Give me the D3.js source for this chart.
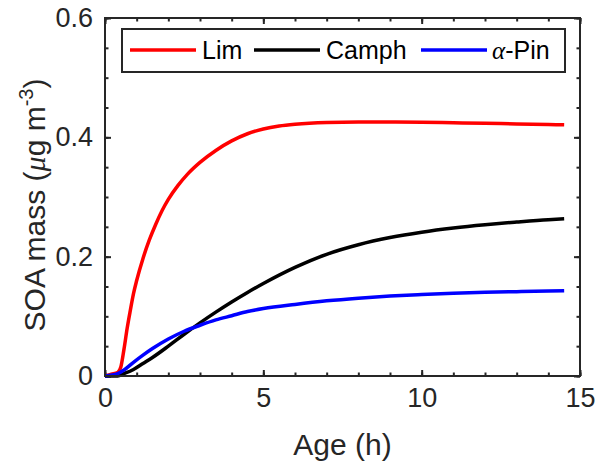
<!DOCTYPE html>
<html>
<head>
<meta charset="utf-8">
<script src="https://cdn.jsdelivr.net/npm/d3@7"></script>
<style>
  body { margin: 0; background: #fff; }
  text { font-family: "Liberation Sans", Arial, sans-serif; fill: #262626; }
</style>
</head>
<body>
<div id="chart"></div>
<script>
// data
var ageLim = [0, 0.2, 0.4, 0.5, 0.6, 0.7, 0.8, 0.9, 1.0, 1.2, 1.4, 1.6, 1.8, 2.0, 2.3, 2.6, 3.0, 3.5, 4.0, 4.5, 5, 5.5, 6, 7, 8, 9, 10, 11, 12, 13, 14, 14.5];
var limMass = [0, 0.003, 0.006, 0.015, 0.045, 0.08, 0.11, 0.138, 0.16, 0.197, 0.228, 0.254, 0.277, 0.296, 0.319, 0.338, 0.358, 0.378, 0.394, 0.406, 0.414, 0.419, 0.422, 0.425, 0.4258, 0.4258, 0.4253, 0.4245, 0.4235, 0.4225, 0.4215, 0.421];

var ageOther = [0, 0.4, 0.6, 0.9, 1.2, 1.5, 2, 2.5, 3, 3.5, 4, 4.5, 5, 6, 7, 8, 9, 10, 11, 12, 13, 14, 14.5];
var camphMass = [0, 0, 0.004, 0.011, 0.021, 0.031, 0.05, 0.07, 0.089, 0.107, 0.124, 0.14, 0.155, 0.182, 0.204, 0.22, 0.232, 0.241, 0.248, 0.2535, 0.258, 0.262, 0.2635];
var pinMass = [0, 0.004, 0.01, 0.023, 0.035, 0.046, 0.062, 0.075, 0.085, 0.094, 0.101, 0.108, 0.113, 0.12, 0.126, 0.1305, 0.134, 0.1365, 0.1385, 0.1402, 0.1414, 0.1423, 0.1427];

var xTicks = [0, 5, 10, 15];
var yTicks = [0, 0.2, 0.4, 0.6];
var yTickLabels = ["0", "0.2", "0.4", "0.6"];

var svgWidth = 599;
var svgHeight = 464;
var margin = { top: 18, right: 19, bottom: 88, left: 105 };
var width = svgWidth - margin.left - margin.right;
var height = svgHeight - margin.top - margin.bottom;

var svg = d3.select("#chart").append("svg")
    .attr("width", svgWidth)
    .attr("height", svgHeight);

var g = svg.append("g")
    .attr("transform", `translate(${margin.left}, ${margin.top})`);

var x = d3.scaleLinear().domain([0, 15]).range([0, width]);
var y = d3.scaleLinear().domain([0, 0.6]).range([height, 0]);

var axisColor = "#262626";

// minor ticks (all four sides, pointing inward)
var xMinor = d3.range(0, 15.01, 1);
var yMinor = d3.range(0, 0.601, 0.05);

function styleAxis(sel) {
    sel.select(".domain").remove();
    sel.selectAll("line").attr("stroke", axisColor).attr("stroke-width", 2);
}

g.append("g").attr("transform", `translate(0,${height})`)
    .call(d3.axisBottom(x).tickValues(xMinor).tickSize(-3.5).tickFormat(""))
    .call(styleAxis);
g.append("g")
    .call(d3.axisTop(x).tickValues(xMinor).tickSize(-3.5).tickFormat(""))
    .call(styleAxis);
g.append("g")
    .call(d3.axisLeft(y).tickValues(yMinor).tickSize(-3.5).tickFormat(""))
    .call(styleAxis);
g.append("g").attr("transform", `translate(${width},0)`)
    .call(d3.axisRight(y).tickValues(yMinor).tickSize(-3.5).tickFormat(""))
    .call(styleAxis);

// major ticks with labels
var xAxis = g.append("g").attr("transform", `translate(0,${height})`)
    .call(d3.axisBottom(x).tickValues(xTicks).tickSize(-6).tickPadding(12).tickFormat(d3.format("d")))
    .call(styleAxis);
xAxis.selectAll("text").attr("font-size", "27px").attr("fill", axisColor)
    .attr("font-family", "Liberation Sans, Arial, sans-serif");

var yAxis = g.append("g")
    .call(d3.axisLeft(y).tickValues(yTicks).tickSize(-6).tickPadding(12)
        .tickFormat((d, i) => yTickLabels[i]))
    .call(styleAxis);
yAxis.selectAll("text").attr("font-size", "27px").attr("fill", axisColor)
    .attr("font-family", "Liberation Sans, Arial, sans-serif");

g.append("g")
    .call(d3.axisTop(x).tickValues(xTicks).tickSize(-6).tickFormat(""))
    .call(styleAxis);
g.append("g").attr("transform", `translate(${width},0)`)
    .call(d3.axisRight(y).tickValues(yTicks).tickSize(-6).tickFormat(""))
    .call(styleAxis);

// lines
var line = d3.line()
    .x(d => x(d[0]))
    .y(d => y(d[1]))
    .curve(d3.curveMonotoneX);

var series = [
    { name: "Lim", color: "#ff0000", age: ageLim, mass: limMass },
    { name: "Camph", color: "#000000", age: ageOther, mass: camphMass },
    { name: "Pin", color: "#0000ff", age: ageOther, mass: pinMass }
];

series.forEach(function (s) {
    g.append("path")
        .datum(d3.zip(s.age, s.mass))
        .attr("fill", "none")
        .attr("stroke", s.color)
        .attr("stroke-width", 3.5)
        .attr("stroke-linejoin", "round")
        .attr("d", line);
});

// box
g.append("rect")
    .attr("width", width)
    .attr("height", height)
    .attr("fill", "none")
    .attr("stroke", axisColor)
    .attr("stroke-width", 2);

// axis labels
svg.append("text")
    .attr("x", margin.left + width / 2)
    .attr("y", 455)
    .attr("text-anchor", "middle")
    .attr("font-size", "30px")
    .text("Age (h)");

var ylab = svg.append("text")
    .attr("transform", "translate(45," + (margin.top + height / 2 + 8) + ") rotate(-90)")
    .attr("text-anchor", "middle")
    .attr("font-size", "30px");
ylab.append("tspan").text("SOA mass (");
ylab.append("tspan").attr("font-family", "Liberation Serif, serif").attr("font-style", "italic").text("\u03bc");
ylab.append("tspan").text("g m");
ylab.append("tspan").attr("font-size", "20px").attr("dy", -12).text("-3");
ylab.append("tspan").attr("dy", 12).text(")");

// legend
var legend = svg.append("g");
legend.append("rect")
    .attr("x", 122).attr("y", 29)
    .attr("width", 443).attr("height", 43)
    .attr("fill", "#fff")
    .attr("stroke", axisColor)
    .attr("stroke-width", 2);

var legendItems = [
    { x0: 130, tx: 202, color: "#ff0000", label: "Lim" },
    { x0: 254, tx: 326, color: "#000000", label: "Camph" },
    { x0: 421, tx: 492, color: "#0000ff", label: "-Pin", greek: "\u03b1" }
];
legendItems.forEach(function (d) {
    legend.append("line")
        .attr("x1", d.x0).attr("x2", d.x0 + 66)
        .attr("y1", 50).attr("y2", 50)
        .attr("stroke", d.color)
        .attr("stroke-width", 3.5);
    var t = legend.append("text")
        .attr("x", d.tx).attr("y", 59)
        .attr("font-size", "25px")
        .attr("fill", "#000");
    if (d.greek) {
        t.append("tspan").attr("font-family", "Liberation Serif, serif")
            .attr("font-style", "italic").attr("fill", "#000").text(d.greek);
    }
    t.append("tspan").attr("fill", "#000").text(d.label);
});
</script>
</body>
</html>
